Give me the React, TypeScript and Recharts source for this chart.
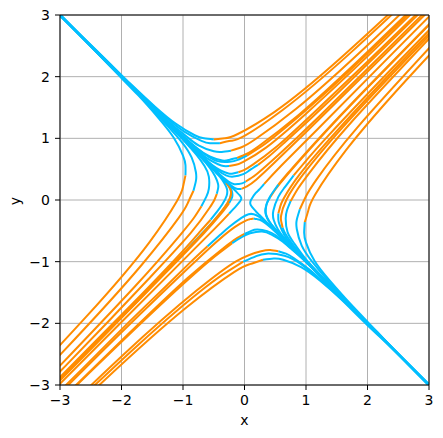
import React from "react";
import { LineChart, Line, XAxis, YAxis, CartesianGrid, ReferenceLine } from "recharts";

type Pt = [number, number];

// each trajectory: forward leg (orange) and backward leg (blue), both start at the seed point
const t1Fwd: Pt[] = [[-0.5, 0.98], [-0.32, 1.0], [-0.11, 1.07], [0.49, 1.43], [1.55, 2.29], [3.55, 4.13]];
const t1Back: Pt[] = [[-0.5, 0.98], [-0.66, 1.0], [-0.81, 1.05], [-1.12, 1.24], [-1.45, 1.51], [-1.85, 1.88], [-2.34, 2.36], [-2.96, 2.96], [-3.73, 3.73]];
const t2Fwd: Pt[] = [[-0.4, 0.92], [-0.22, 0.96], [0.0, 1.04], [0.62, 1.46], [1.75, 2.41], [3.9, 4.42]];
const t2Back: Pt[] = [[-0.4, 0.92], [-0.56, 0.92], [-0.7, 0.96], [-0.98, 1.11], [-1.29, 1.35], [-1.65, 1.68], [-2.09, 2.1], [-2.64, 2.64], [-3.33, 3.33]];
const t3Fwd: Pt[] = [[-0.22, 0.8], [-0.04, 0.86], [0.175, 0.985], [0.84, 1.48], [2.07, 2.575], [4.44, 4.84]];
const t3Back: Pt[] = [[-0.22, 0.8], [-0.37, 0.78], [-0.5, 0.79], [-0.74, 0.88], [-0.98, 1.06], [-1.27, 1.3], [-1.61, 1.63], [-2.04, 2.04], [-2.57, 2.57], [-3.24, 3.24]];
const t4Fwd: Pt[] = [[-0.12, 0.68], [0.04, 0.75], [0.24, 0.88], [0.87, 1.37], [2.04, 2.44], [4.32, 4.64]];
const t4Back: Pt[] = [[-0.12, 0.68], [-0.25, 0.65], [-0.36, 0.64], [-0.565, 0.705], [-0.765, 0.835], [-0.99, 1.03], [-1.26, 1.28], [-1.6, 1.6], [-2.02, 2.02], [-2.54, 2.54], [-3.2, 3.2]];
const t5Fwd: Pt[] = [[0.04, 0.72], [0.23, 0.84], [0.49, 1.03], [1.31, 1.73], [2.87, 3.21], [5.95, 6.2]];
const t5Back: Pt[] = [[0.04, 0.72], [-0.11, 0.65], [-0.24, 0.62], [-0.44, 0.63], [-0.63, 0.73], [-0.83, 0.88], [-1.07, 1.09], [-1.35, 1.37], [-1.71, 1.71], [-2.16, 2.16], [-2.72, 2.72], [-3.43, 3.43]];
const t6Fwd: Pt[] = [[-0.1, 0.45], [0.0, 0.49], [0.13, 0.57], [0.53, 0.87], [1.26, 1.54], [2.69, 2.91], [5.51, 5.69]];
const t6Back: Pt[] = [[-0.1, 0.45], [-0.185, 0.43], [-0.26, 0.43], [-0.39, 0.48], [-0.53, 0.57], [-0.68, 0.7], [-0.87, 0.88], [-1.1, 1.1], [-1.39, 1.39], [-1.75, 1.75], [-2.2, 2.2], [-2.78, 2.78], [-3.5, 3.5]];
const t7Fwd: Pt[] = [[0.22, 0.57], [0.4, 0.71], [0.65, 0.93], [1.47, 1.69], [3.07, 3.25]];
const t7Back: Pt[] = [[0.22, 0.57], [0.08, 0.48], [-0.02, 0.42], [-0.18, 0.38], [-0.3, 0.4], [-0.42, 0.47], [-0.54, 0.57], [-0.69, 0.71], [-0.88, 0.88], [-1.11, 1.11], [-1.4, 1.4], [-1.76, 1.76], [-2.22, 2.22], [-2.8, 2.8], [-3.53, 3.53]];
const t8Fwd: Pt[] = [[0.02, 0.3], [0.1, 0.35], [0.21, 0.43], [0.55, 0.73], [1.21, 1.35], [2.5, 2.62], [5.08, 5.16]];
const t8Back: Pt[] = [[0.02, 0.3], [-0.04, 0.27], [-0.1, 0.26], [-0.18, 0.26], [-0.26, 0.3], [-0.34, 0.36], [-0.44, 0.45], [-0.56, 0.56], [-0.71, 0.71], [-0.89, 0.89], [-1.12, 1.12], [-1.42, 1.42], [-1.79, 1.79], [-2.25, 2.25], [-2.84, 2.84], [-3.58, 3.58]];
const t9Fwd: Pt[] = [[-0.25, 0.55], [-0.14, 0.57], [-0.02, 0.62], [0.35, 0.85], [1.0, 1.4], [2.24, 2.56], [4.67, 4.93]];
const t9Back: Pt[] = [[-0.25, 0.55], [-0.34, 0.55], [-0.43, 0.58], [-0.6, 0.67], [-0.78, 0.82], [-1.0, 1.02], [-1.265, 1.275], [-1.6, 1.6], [-2.02, 2.02], [-2.54, 2.54], [-3.2, 3.2]];
const t10Fwd: Pt[] = [[-0.05, 0.18], [0.04, 0.22], [0.19, 0.33], [0.46, 0.58], [0.99, 1.09], [2.04, 2.12], [4.13, 4.19]];
const t10Back: Pt[] = [[-0.05, 0.18], [-0.11, 0.18], [-0.17, 0.2], [-0.22, 0.24], [-0.29, 0.29], [-0.37, 0.37], [-0.46, 0.46], [-0.73, 0.73], [-1.16, 1.16], [-1.84, 1.84], [-2.9, 2.9], [-3.6, 3.6]];

const r1Fwd: Pt[] = [[0.98, -0.36], [1.04, -0.16], [1.15, 0.09], [1.66, 0.82], [2.815, 2.145], [5.23, 4.69]];
const r1Back: Pt[] = [[0.98, -0.36], [0.97, -0.53], [1.0, -0.69], [1.14, -0.99], [1.38, -1.3], [1.71, -1.67], [2.14, -2.12], [2.68, -2.68], [3.38, -3.38]];
const r2Fwd: Pt[] = [[0.9, -0.15], [1.0, 0.06], [1.17, 0.33], [1.83, 1.17], [3.26, 2.74]];
const r2Back: Pt[] = [[0.9, -0.15], [0.85, -0.32], [0.85, -0.47], [0.93, -0.74], [1.1, -1.0], [1.35, -1.3], [1.68, -1.66], [2.1, -2.1], [2.65, -2.65], [3.34, -3.34]];
const r3Fwd: Pt[] = [[0.75, -0.02], [0.86, 0.17], [1.04, 0.42], [1.7, 1.22], [3.11, 2.73]];
const r3Back: Pt[] = [[0.75, -0.02], [0.69, -0.17], [0.67, -0.3], [0.7, -0.52], [0.82, -0.72], [0.99, -0.95], [1.23, -1.21], [1.54, -1.54], [1.94, -1.94], [2.45, -2.45], [3.08, -3.08], [3.5, -3.5]];
const r4Fwd: Pt[] = [[0.55, -0.22], [0.58, -0.11], [0.635, 0.02], [0.9, 0.42], [1.51, 1.13], [2.79, 2.49], [5.4, 5.16]];
const r4Back: Pt[] = [[0.55, -0.22], [0.55, -0.32], [0.57, -0.4], [0.65, -0.57], [0.79, -0.75], [0.98, -0.96], [1.22, -1.22], [1.54, -1.54], [1.94, -1.94], [2.45, -2.45], [3.08, -3.08], [3.5, -3.5]];
const r5Fwd: Pt[] = [[0.42, 0.05], [0.5, 0.17], [0.62, 0.32], [1.06, 0.82], [1.97, 1.79], [3.83, 3.69]];
const r5Back: Pt[] = [[0.42, 0.05], [0.37, -0.04], [0.35, -0.12], [0.35, -0.23], [0.4, -0.34], [0.48, -0.45], [0.595, -0.58], [0.74, -0.74], [0.93, -0.93], [1.17, -1.17], [1.48, -1.48], [1.86, -1.86], [2.35, -2.35], [2.96, -2.96], [3.5, -3.5]];
const r6Fwd: Pt[] = [[0.32, 0.26], [0.6, 0.56], [1.18, 1.14], [2.335, 2.305], [4.65, 4.63]];
const r6Back: Pt[] = [[0.32, 0.26], [0.24, 0.17], [0.18, 0.11], [0.12, 0.025], [0.096, -0.024], [0.094, -0.058], [0.104, -0.086], [0.125, -0.115], [0.153, -0.149], [0.19, -0.19], [0.24, -0.24], [0.3, -0.3], [0.38, -0.38], [0.48, -0.48], [0.6, -0.6], [0.76, -0.76], [0.96, -0.96], [1.21, -1.21], [1.52, -1.52], [1.92, -1.92], [2.42, -2.42], [3.05, -3.05], [3.5, -3.5]];
const r7Fwd: Pt[] = [[0.8, 0.4], [1.03, 0.67], [1.36, 1.04], [2.53, 2.27], [4.9, 4.7]];
const r7Back: Pt[] = [[0.8, 0.4], [0.65, 0.2], [0.55, 0.05], [0.47, -0.17], [0.475, -0.325], [0.54, -0.47], [0.65, -0.62], [0.81, -0.79], [1.01, -1.0], [1.27, -1.27], [1.6, -1.6], [2.02, -2.02], [2.54, -2.54], [3.2, -3.2]];
const r8Fwd: Pt[] = [[0.62, -0.45], [0.6, -0.36], [0.595, -0.255], [0.68, 0.0], [0.95, 0.41], [1.57, 1.15], [2.89, 2.55], [5.57, 5.31]];
const r8Back: Pt[] = [[0.62, -0.45], [0.66, -0.54], [0.72, -0.63], [0.87, -0.83], [1.08, -1.06], [1.35, -1.35], [1.7, -1.7], [2.14, -2.14], [2.7, -2.7], [3.4, -3.4]];
const r9Fwd: Pt[] = [[0.55, 0.25], [0.7, 0.43], [0.92, 0.68], [1.69, 1.51], [3.28, 3.13]];
const r9Back: Pt[] = [[0.55, 0.25], [0.45, 0.11], [0.39, 0.01], [0.34, -0.14], [0.35, -0.25], [0.4, -0.35], [0.49, -0.46], [0.61, -0.59], [0.76, -0.76], [0.96, -0.96], [1.2, -1.2], [1.5, -1.5], [1.9, -1.9], [2.4, -2.4], [3.0, -3.0], [3.6, -3.6]];

const l1Fwd: Pt[] = [[-0.96, 0.4], [-1.0, 0.21], [-1.1, -0.02], [-1.55, -0.69], [-2.58, -1.9], [-4.75, -4.21]];
const l1Back: Pt[] = [[-0.96, 0.4], [-0.96, 0.565], [-1.0, 0.72], [-1.15, 1.01], [-1.395, 1.325], [-1.73, 1.7], [-2.17, 2.15], [-2.72, 2.72], [-3.43, 3.43]];
const l2Fwd: Pt[] = [[-0.83, 0.15], [-0.92, -0.045], [-1.07, -0.29], [-1.67, -1.05], [-2.965, -2.475], [-5.63, -5.25]];
const l2Back: Pt[] = [[-0.83, 0.15], [-0.79, 0.31], [-0.79, 0.45], [-0.86, 0.69], [-1.02, 0.94], [-1.26, 1.21], [-1.57, 1.545], [-1.96, 1.96], [-2.47, 2.47], [-3.11, 3.11]];
const l3Fwd: Pt[] = [[-0.95, -0.82], [-1.31, -1.19], [-1.82, -1.72], [-2.55, -2.45], [-3.58, -3.5]];
const l3Back: Pt[] = [[-0.95, -0.82], [-0.7, -0.55], [-0.52, -0.36], [-0.32, -0.12], [-0.24, 0.02], [-0.22, 0.11], [-0.23, 0.18], [-0.27, 0.25], [-0.33, 0.32], [-0.41, 0.41], [-0.52, 0.52], [-0.66, 0.66], [-0.83, 0.83], [-1.05, 1.05], [-1.32, 1.32], [-1.66, 1.66], [-2.1, 2.1], [-2.64, 2.64], [-3.33, 3.33]];
const l4Fwd: Pt[] = [[-0.55, -0.32], [-0.72, -0.51], [-0.96, -0.78], [-1.81, -1.67], [-3.54, -3.42]];
const l4Back: Pt[] = [[-0.55, -0.32], [-0.44, -0.18], [-0.36, -0.07], [-0.29, 0.07], [-0.285, 0.18], [-0.32, 0.26], [-0.38, 0.35], [-0.47, 0.45], [-0.58, 0.58], [-0.73, 0.73], [-0.92, 0.92], [-1.16, 1.16], [-1.46, 1.46], [-1.84, 1.84], [-2.32, 2.32], [-2.92, 2.92], [-3.5, 3.5]];
const l5Fwd: Pt[] = [[-0.45, 0.1], [-0.49, 0.0], [-0.57, -0.13], [-0.87, -0.53], [-1.54, -1.26], [-2.91, -2.69], [-5.69, -5.51]];
const l5Back: Pt[] = [[-0.45, 0.1], [-0.43, 0.185], [-0.43, 0.26], [-0.48, 0.39], [-0.57, 0.53], [-0.7, 0.68], [-0.88, 0.87], [-1.1, 1.1], [-1.39, 1.39], [-1.75, 1.75], [-2.2, 2.2], [-2.78, 2.78], [-3.5, 3.5]];
const l6Fwd: Pt[] = [[-0.7, -0.1], [-0.83, -0.3], [-1.04, -0.56], [-1.79, -1.41], [-3.35, -3.05]];
const l6Back: Pt[] = [[-0.7, -0.1], [-0.62, 0.055], [-0.58, 0.18], [-0.58, 0.38], [-0.65, 0.55], [-0.78, 0.73], [-0.965, 0.94], [-1.21, 1.19], [-1.51, 1.51], [-1.9, 1.9], [-2.4, 2.4], [-3.02, 3.02], [-3.5, 3.5]];
const l7Fwd: Pt[] = [[-0.25, -0.05], [-0.3, -0.12], [-0.38, -0.22], [-0.66, -0.54], [-1.25, -1.15], [-2.44, -2.36], [-4.83, -4.77]];
const l7Back: Pt[] = [[-0.25, -0.05], [-0.22, 0.006], [-0.2, 0.05], [-0.2, 0.12], [-0.22, 0.18], [-0.26, 0.24], [-0.32, 0.31], [-0.4, 0.4], [-0.5, 0.5], [-0.63, 0.63], [-0.8, 0.8], [-1.0, 1.0], [-1.27, 1.27], [-1.6, 1.6], [-2.0, 2.0], [-2.54, 2.54], [-3.2, 3.2]];
const l8Fwd: Pt[] = [[-0.3, 0.28], [-0.25, 0.21], [-0.22, 0.14], [-0.225, 0.065], [-0.275, -0.045], [-0.41, -0.23], [-0.71, -0.57], [-1.34, -1.22], [-2.6, -2.51], [-5.16, -5.08]];
const l8Back: Pt[] = [[-0.3, 0.28], [-0.37, 0.36], [-0.46, 0.46], [-0.58, 0.58], [-0.92, 0.92], [-1.46, 1.46], [-2.32, 2.32], [-3.6, 3.6]];
const l9Fwd: Pt[] = [[-0.25, -0.22], [-0.48, -0.46], [-0.95, -0.93], [-1.89, -1.87], [-3.77, -3.75]];
const l9Back: Pt[] = [[-0.25, -0.22], [-0.137, -0.099], [-0.083, -0.035], [-0.06, 0.0], [-0.052, 0.023], [-0.055, 0.04], [-0.064, 0.056], [-0.077, 0.074], [-0.12, 0.12], [-0.19, 0.19], [-0.3, 0.3], [-0.48, 0.48], [-0.76, 0.76], [-1.2, 1.2], [-1.9, 1.9], [-3.0, 3.0], [-3.6, 3.6]];

const b1Fwd: Pt[] = [[0.55, -0.83], [0.42, -0.81], [0.27, -0.83], [-0.13, -0.99], [-0.775, -1.465], [-1.97, -2.51], [-4.26, -4.7]];
const b1Back: Pt[] = [[0.55, -0.83], [0.675, -0.87], [0.8, -0.94], [1.06, -1.13], [1.36, -1.4], [1.73, -1.75], [2.19, -2.19], [2.76, -2.76], [3.48, -3.48]];
const b2Fwd: Pt[] = [[0.3, -0.97], [0.09, -1.04], [-0.17, -1.17], [-0.94, -1.74], [-2.36, -3.0], [-5.11, -5.61]];
const b2Back: Pt[] = [[0.3, -0.97], [0.475, -0.95], [0.63, -0.97], [0.92, -1.09], [1.23, -1.31], [1.58, -1.62], [2.0, -2.03], [2.54, -2.54], [3.2, -3.2]];
const b3Fwd: Pt[] = [[-0.02, -1.0], [-0.28, -1.16], [-0.63, -1.41], [-1.73, -2.35], [-3.835, -4.325]];
const b3Back: Pt[] = [[-0.02, -1.0], [0.19, -0.91], [0.36, -0.87], [0.65, -0.905], [0.92, -1.04], [1.2, -1.27], [1.54, -1.57], [1.96, -1.96], [2.47, -2.47], [3.11, -3.11]];
const b4Fwd: Pt[] = [[0.0, -0.55], [-0.14, -0.63], [-0.33, -0.77], [-0.93, -1.27], [-2.06, -2.34], [-4.29, -4.51]];
const b4Back: Pt[] = [[0.0, -0.55], [0.11, -0.5], [0.21, -0.48], [0.37, -0.505], [0.52, -0.58], [0.68, -0.71], [0.865, -0.88], [1.1, -1.1], [1.39, -1.39], [1.75, -1.75], [2.2, -2.2], [2.78, -2.78], [3.5, -3.5]];
const b5Fwd: Pt[] = [[0.15, -0.3], [0.09, -0.31], [0.03, -0.33], [-0.16, -0.44], [-0.49, -0.71], [-1.11, -1.29], [-2.33, -2.47], [-4.74, -4.86]];
const b5Back: Pt[] = [[0.15, -0.3], [0.2, -0.31], [0.25, -0.32], [0.34, -0.375], [0.44, -0.46], [0.56, -0.57], [0.71, -0.71], [0.9, -0.9], [1.13, -1.13], [1.43, -1.43], [1.8, -1.8], [2.27, -2.27], [2.86, -2.86], [3.6, -3.6]];
const b6Fwd: Pt[] = [[-0.6, -0.75], [-0.89, -1.02], [-1.29, -1.41], [-1.86, -1.96], [-2.65, -2.75], [-5.36, -5.44]];
const b6Back: Pt[] = [[-0.6, -0.75], [-0.39, -0.56], [-0.24, -0.43], [-0.05, -0.29], [0.066, -0.23], [0.15, -0.23], [0.22, -0.26], [0.29, -0.31], [0.37, -0.38], [0.476, -0.476], [0.6, -0.6], [0.76, -0.76], [0.96, -0.96], [1.2, -1.2], [1.51, -1.51], [1.9, -1.9], [2.4, -2.4], [3.02, -3.02], [3.5, -3.5]];
const b7Fwd: Pt[] = [[-0.2, -0.7], [-0.41, -0.86], [-0.7, -1.1], [-1.64, -1.96], [-3.475, -3.725]];
const b7Back: Pt[] = [[-0.2, -0.7], [-0.04, -0.6], [0.09, -0.54], [0.285, -0.51], [0.44, -0.56], [0.6, -0.66], [0.78, -0.81], [1.0, -1.0], [1.26, -1.26], [1.59, -1.59], [2.0, -2.0], [2.52, -2.52], [3.17, -3.17]];

const trajectories: [Pt[], Pt[]][] = [
  [t1Fwd, t1Back], [t2Fwd, t2Back], [t3Fwd, t3Back], [t4Fwd, t4Back], [t5Fwd, t5Back],
  [t6Fwd, t6Back], [t7Fwd, t7Back], [t8Fwd, t8Back], [t9Fwd, t9Back], [t10Fwd, t10Back],
  [r1Fwd, r1Back], [r2Fwd, r2Back], [r3Fwd, r3Back], [r4Fwd, r4Back],
  [r5Fwd, r5Back], [r6Fwd, r6Back], [r7Fwd, r7Back], [r8Fwd, r8Back], [r9Fwd, r9Back],
  [l1Fwd, l1Back], [l2Fwd, l2Back], [l3Fwd, l3Back], [l4Fwd, l4Back],
  [l5Fwd, l5Back], [l6Fwd, l6Back], [l7Fwd, l7Back], [l8Fwd, l8Back], [l9Fwd, l9Back],
  [b1Fwd, b1Back], [b2Fwd, b2Back], [b3Fwd, b3Back], [b4Fwd, b4Back],
  [b5Fwd, b5Back], [b6Fwd, b6Back], [b7Fwd, b7Back],
];

const axisTicks = [-3, -2, -1, 0, 1, 2, 3];

const ORANGE = "#ff8c00";
const BLUE = "#00bfff";
const FONT = "'DejaVu Sans', sans-serif";

const fmt = (v: number) => (v < 0 ? `\u2212${-v}` : `${v}`);
const toRows = (pts: Pt[]) => pts.map(([x, y]) => ({ x, y }));

const tickStyle = { fill: "#000", fontSize: 14, fontFamily: FONT };

const YLabel = () => (
  <text x={20} y={201} transform="rotate(-90, 20, 201)" textAnchor="middle" fill="#000" fontSize={14} fontFamily={FONT}>
    y
  </text>
);

export default function App() {
  return (
    <div style={{ position: "absolute", left: 0, top: 0, background: "#fff" }}>
      <LineChart width={443} height={438} margin={{ top: 15, right: 14, bottom: 0, left: 0 }}>
        <CartesianGrid stroke="#b0b0b0" strokeWidth={1} />
        <XAxis
          type="number"
          dataKey="x"
          domain={[-3, 3]}
          ticks={axisTicks}
          allowDataOverflow
          height={53}
          tickSize={5}
          tickMargin={5}
          tickFormatter={fmt}
          stroke="#000"
          tick={tickStyle}
          label={{ value: "x", position: "insideBottom", offset: 13, fill: "#000", fontSize: 14, fontFamily: FONT }}
        />
        <YAxis
          type="number"
          dataKey="y"
          domain={[-3, 3]}
          ticks={axisTicks}
          allowDataOverflow
          width={60}
          tickSize={5}
          tickMargin={5}
          tickFormatter={fmt}
          stroke="#000"
          tick={tickStyle}
          label={<YLabel />}
        />
        {trajectories.flatMap(([fwd, back], i) => [
          <Line
            key={`f${i}`}
            data={toRows(fwd)}
            dataKey="y"
            type="natural"
            stroke={ORANGE}
            strokeWidth={2}
            dot={false}
            activeDot={false}
            isAnimationActive={false}
          />,
          <Line
            key={`b${i}`}
            data={toRows(back)}
            dataKey="y"
            type="natural"
            stroke={BLUE}
            strokeWidth={2}
            dot={false}
            activeDot={false}
            isAnimationActive={false}
          />,
        ])}
        <ReferenceLine x={3} stroke="#000" />
        <ReferenceLine y={3} stroke="#000" />
      </LineChart>
    </div>
  );
}
